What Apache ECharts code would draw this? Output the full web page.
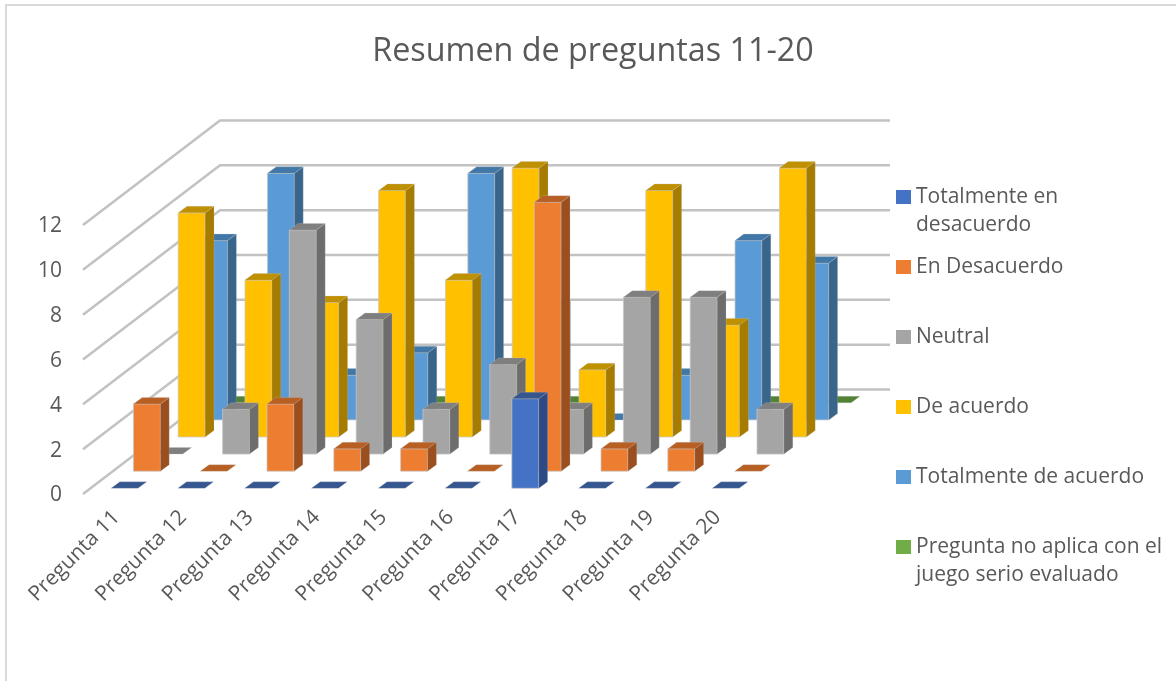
<!DOCTYPE html>
<html>
<head>
<meta charset="utf-8">
<script src="https://cdn.jsdelivr.net/npm/echarts@6/dist/echarts.min.js"></script>
<style>html,body{margin:0;padding:0;background:#fff}#c{width:1176px;height:681px}</style>
</head>
<body>
<div id="c"></div>
<script>
var categories = ['Pregunta 11','Pregunta 12','Pregunta 13','Pregunta 14','Pregunta 15','Pregunta 16','Pregunta 17','Pregunta 18','Pregunta 19','Pregunta 20'];
var totalmenteEnDesacuerdo = [0,0,0,0,0,0,4,0,0,0];
var enDesacuerdo = [3,0,3,1,1,0,12,1,1,0];
var neutral = [0,2,10,6,2,4,2,7,7,2];
var deAcuerdo = [10,7,6,11,7,12,3,11,5,12];
var totalmenteDeAcuerdo = [8,11,2,3,11,5,0,2,8,7];
var noAplica = [0,0,0,0,0,0,0,0,0,0];
var yTicks = [0,2,4,6,8,10,12];

var FONT = '"Open Sans"';
var TEXT = '#595959';
// projection of the 3D look (pixels)
var ROW_DX = 22.4, ROW_DY = 17.1;       // shift between series rows
var BASE_DX = 8.1, BASE_DY = 5.7;       // shift of first row from the front edge
var BAR_W = 27, SIDE_DX = 8.8, SIDE_DY = 6.5;
var WALL_DX = 137, WALL_DY = 104.5;

var rows = [
  {name:'Totalmente en desacuerdo', line1:'Totalmente en', line2:'desacuerdo', data:totalmenteEnDesacuerdo, face:'#4472C4', side:'#2C4A85', top:'#35568F', depth:0},
  {name:'En Desacuerdo', line1:'En Desacuerdo', data:enDesacuerdo, face:'#ED7D31', side:'#9B4F1E', top:'#B85F24', depth:1},
  {name:'Neutral', line1:'Neutral', data:neutral, face:'#A5A5A5', side:'#6D6D6D', top:'#7F7F7F', depth:2},
  {name:'De acuerdo', line1:'De acuerdo', data:deAcuerdo, face:'#FFC000', side:'#A67C00', top:'#BF9000', depth:3},
  {name:'Totalmente de acuerdo', line1:'Totalmente de acuerdo', data:totalmenteDeAcuerdo, face:'#5B9BD5', side:'#3A658B', top:'#4178A8', depth:4},
  {name:'Pregunta no aplica con el juego serio evaluado', line1:'Pregunta no aplica con el', line2:'juego serio evaluado', data:noAplica, face:'#70AD47', side:'#497030', top:'#548235', depth:5}
];

function barRenderer(row){
  return function(params, api){
    var c = api.coord([api.value(0), api.value(1)]);
    var z = api.coord([api.value(0), 0]);
    var l = z[0] + BASE_DX + ROW_DX*row.depth - BAR_W/2;
    var r = l + BAR_W;
    var b = z[1] - BASE_DY - ROW_DY*row.depth;
    var t = b - (z[1] - c[1]);
    var edge = {stroke:'rgba(200,200,200,0.75)', lineWidth:1};
    var kids = [];
    if (api.value(1) > 0) {
      kids.push({type:'polygon', shape:{points:[[l,b],[r,b],[r,t],[l,t]]},
        style:Object.assign({fill:row.face}, edge)});
      kids.push({type:'polygon', shape:{points:[[r,b],[r+SIDE_DX,b-SIDE_DY],[r+SIDE_DX,t-SIDE_DY],[r,t]]},
        style:{fill:row.side, stroke:'rgba(200,200,200,0.4)', lineWidth:0.5}});
    }
    kids.push({type:'polygon', shape:{points:[[l,t],[r,t],[r+SIDE_DX,t-SIDE_DY],[l+SIDE_DX,t-SIDE_DY]]},
      style:{fill:row.top, stroke:'rgba(200,200,200,0.5)', lineWidth:0.5}});
    return {type:'group', children:kids};
  };
}

function wallRenderer(params, api){
  var p = api.coord([0, api.value(0)]);
  var x0 = params.coordSys.x, w = params.coordSys.width;
  return {type:'polyline', shape:{points:[[x0,p[1]],[x0+WALL_DX,p[1]-WALL_DY],[x0+WALL_DX+w+2,p[1]-WALL_DY]]},
    style:{fill:'none', stroke:'#c2c2c2', lineWidth:2.5}, silent:true};
}

var series = [{
  type:'custom', name:'walls', coordinateSystem:'cartesian2d', z:1, clip:false, silent:true,
  data:yTicks.map(function(v){return [v];}), encode:{y:0},
  renderItem:wallRenderer
}];
rows.slice().reverse().forEach(function(row, i){
  series.push({
    type:'custom', name:row.name, coordinateSystem:'cartesian2d', z:2+i, clip:false, silent:true,
    itemStyle:{color:row.face},
    data:row.data.map(function(v, k){return [k, v];}), encode:{x:0, y:1},
    renderItem:barRenderer(row)
  });
});

function legendLabel(name){
  return rows.filter(function(r){return r.name === name;})[0].line1;
}

var chart = echarts.init(document.getElementById('c'), null, {renderer:'canvas'});
chart.setOption({
  animation:false,
  backgroundColor:'#fff',
  title:{text:'Resumen de preguntas 11-20', left:588, textAlign:'center', top:31,
    textStyle:{fontFamily:FONT, fontSize:32.3, fontWeight:'normal', color:TEXT}},
  grid:{left:83, top:225, width:668, height:269},
  xAxis:{type:'category', data:categories, boundaryGap:true,
    axisLine:{show:false}, axisTick:{show:false}, splitLine:{show:false},
    axisLabel:{interval:0, rotate:45, fontFamily:FONT, fontSize:21, color:TEXT, margin:20}},
  yAxis:{type:'value', min:0, max:12, interval:2,
    axisLine:{show:false}, axisTick:{show:false}, splitLine:{show:false},
    axisLabel:{fontFamily:FONT, fontSize:21, color:TEXT, margin:21, verticalAlign:'top', lineHeight:3}},
  legend:{orient:'vertical', left:896, top:185, padding:0, itemWidth:15, itemHeight:14, itemGap:46,
    icon:'rect', selectedMode:false, formatter:legendLabel,
    textStyle:{fontFamily:FONT, fontSize:21, color:TEXT, lineHeight:24},
    data:rows.map(function(r){return r.name;})},
  graphic:[
    {type:'rect', silent:true, shape:{x:6,y:5,width:1400,height:1000}, z:0,
      style:{fill:'none', stroke:'#d9d9d9', lineWidth:2}},
    {type:'text', silent:true, style:{text:rows[0].line2, x:916, y:225, verticalAlign:'middle',
      font:'21px '+FONT, fill:TEXT}},
    {type:'text', silent:true, style:{text:rows[5].line2, x:916, y:575, verticalAlign:'middle',
      font:'21px '+FONT, fill:TEXT}}
  ],
  series:series
});
</script>
</body>
</html>
